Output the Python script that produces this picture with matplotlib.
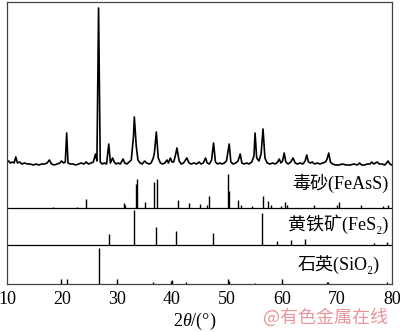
import matplotlib.pyplot as plt

plt.rcParams['font.family'] = ['Liberation Serif', 'Noto Sans CJK SC', 'DejaVu Serif']
plt.rcParams['mathtext.fontset'] = 'custom'
plt.rcParams['mathtext.rm'] = 'Liberation Serif'
plt.rcParams['mathtext.it'] = 'Liberation Serif:italic'

# measured XRD pattern (2theta in degrees, intensity a.u.)
two_theta = [10.0, 10.3, 10.6, 11.0, 11.3, 11.6, 11.9, 12.3, 12.7, 13.2, 13.7, 14.2, 14.8,
             15.3, 15.8, 16.3, 16.8, 17.3, 17.7, 18.1, 18.6, 19.1, 19.6, 19.9, 20.3, 20.6,
             20.85, 21.1, 21.5, 22.0, 22.5, 23.0, 23.5, 24.0, 24.4, 24.8, 25.3, 25.7, 26.1,
             26.35, 26.65, 26.95, 27.3, 27.7, 28.1, 28.5, 28.8, 29.2, 29.5, 29.8, 30.2, 30.6,
             31.1, 31.4, 31.8, 32.2, 32.6, 33.0, 33.15, 33.5, 33.8, 34.2, 34.6, 35.0, 35.4,
             35.8, 36.2, 36.6, 36.8, 37.15, 37.5, 37.9, 38.3, 38.7, 39.1, 39.35, 39.7, 40.0,
             40.3, 40.6, 40.9, 41.3, 41.7, 42.1, 42.7, 43.1, 43.5, 44.0, 44.5, 44.9, 45.3,
             45.7, 46.1, 46.4, 46.8, 47.2, 47.55, 47.9, 48.3, 48.7, 49.1, 49.5, 49.9, 50.4,
             50.7, 51.1, 51.6, 52.0, 52.4, 52.7, 53.1, 53.6, 54.0, 54.5, 54.9, 55.1, 55.4,
             55.8, 56.2, 56.55, 56.9, 57.3, 57.8, 58.3, 58.8, 59.2, 59.5, 59.8, 60.1, 60.4,
             60.7, 61.1, 61.6, 62.0, 62.4, 62.8, 63.3, 63.8, 64.2, 64.5, 64.8, 65.2, 65.5,
             65.9, 66.4, 66.9, 67.4, 67.9, 68.2, 68.5, 68.8, 69.2, 69.7, 70.3, 71.0, 71.7,
             72.4, 73.1, 73.7, 74.1, 74.5, 75.0, 75.5, 76.0, 76.3, 76.7, 77.0, 77.3, 77.7,
             78.2, 78.7, 79.0, 79.3, 79.6, 80.0]
intensity = [4, 5, 3, 4, 3, 9, 3, 4, 2, 3, 2, 2, 1,
             2, 1, 2, 2, 3, 6, 2, 1, 2, 3, 5, 3, 4,
             33, 3, 2, 2, 1, 2, 3, 2, 4, 2, 3, 4, 12,
             5, 158, 4, 2, 3, 2, 22, 3, 8, 4, 2, 3, 2,
             7, 3, 2, 4, 6, 30, 49, 20, 6, 3, 2, 5, 3,
             2, 3, 8, 13, 34, 8, 3, 2, 3, 6, 3, 8, 4,
             4, 10, 18, 5, 2, 3, 8, 3, 2, 3, 2, 4, 2,
             3, 8, 3, 2, 6, 23, 4, 2, 3, 2, 3, 5, 22,
             4, 2, 3, 5, 12, 3, 2, 3, 2, 4, 10, 33, 8,
             5, 12, 37, 8, 3, 2, 3, 2, 4, 7, 3, 5, 13,
             4, 2, 4, 8, 3, 2, 3, 2, 5, 11, 4, 3, 4,
             2, 3, 2, 3, 4, 7, 13, 4, 2, 1, 1, 2, 1,
             1, 2, 1, 3, 1, 1, 2, 2, 4, 2, 3, 4, 2,
             2, 1, 3, 5, 2, 1]

# standard cards
feass_pos = [18.4, 22.7, 24.4, 31.3, 31.5, 33.4, 33.6, 35.1, 36.8, 37.2, 41.1, 43.1, 45.1,
             46.4, 46.7, 50.2, 50.4, 52.0, 52.5, 54.5, 56.6, 57.4, 58.0, 59.8, 60.5, 60.9,
             65.8, 70.0, 70.3, 74.4, 78.4, 79.2]
feass_int = [1, 1, 9, 5, 3, 24, 29, 6, 26, 29, 8, 5, 4,
             3, 12, 34, 17, 8, 3, 2, 12, 7, 3, 2, 6, 3,
             3, 3, 6, 3, 2, 3]
fes2_pos = [28.5, 33.0, 37.1, 40.8, 47.4, 56.3, 59.1, 61.6, 64.2, 76.7, 79.0]
fes2_int = [11, 35, 18, 14, 12, 32, 4, 5, 6, 2, 3]
sio2_pos = [19.9, 20.85, 26.65, 30.0, 36.5, 39.8, 40.0, 42.5, 50.1, 50.3, 55.1, 60.0,
            68.2, 68.4, 79.1]
sio2_int = [5, 5, 36, 5, 2, 3, 4, 2, 5, 3, 1, 5, 2, 2, 2]

labels = ['毒砂(FeAsS)', '黄铁矿(FeS₂)', '石英(SiO₂)']

fig = plt.figure(figsize=(4, 3.32), dpi=100)
ax = fig.add_axes([7 / 400, 48 / 332, 385 / 400, 282 / 332])

# stacked offsets
pat_off, feass_off, fes2_off, sio2_off = 118, 76, 39, 0

ax.plot(two_theta, [v + pat_off for v in intensity], color='black', lw=1.2)
ax.vlines(feass_pos, feass_off, [v + feass_off for v in feass_int], color='black', lw=1.0)
ax.vlines(fes2_pos, fes2_off, [v + fes2_off for v in fes2_int], color='black', lw=1.0)
ax.vlines(sio2_pos, sio2_off, [v + sio2_off for v in sio2_int], color='black', lw=1.0)
ax.axhline(feass_off, color='black', lw=0.9)
ax.axhline(fes2_off, color='black', lw=0.9)

ax.text(79.3, 95, labels[0], ha='right', va='baseline', fontsize=13)
ax.text(79.3, 54, labels[1], ha='right', va='baseline', fontsize=13)
ax.text(77.8, 14, labels[2], ha='right', va='baseline', fontsize=13)

ax.set_xlim(10, 80)
ax.set_ylim(0, 282)
ax.set_xticks([10, 20, 30, 40, 50, 60, 70, 80])
ax.set_yticks([])
ax.tick_params(axis='x', length=0, pad=5, labelsize=13)
for s in ax.spines.values():
    s.set_color('#444444')
    s.set_linewidth(0.9)

fig.text(195 / 400, 1 - 326 / 332, r'$2\theta$/(°)', ha='center', va='baseline', fontsize=13)
fig.text(326 / 400, 1 - 317 / 332, '@有色金属在线', ha='center', va='center', fontsize=13,
         color='#e8959c', family=['Noto Sans CJK SC'])

fig.savefig('out.png', dpi=100)
